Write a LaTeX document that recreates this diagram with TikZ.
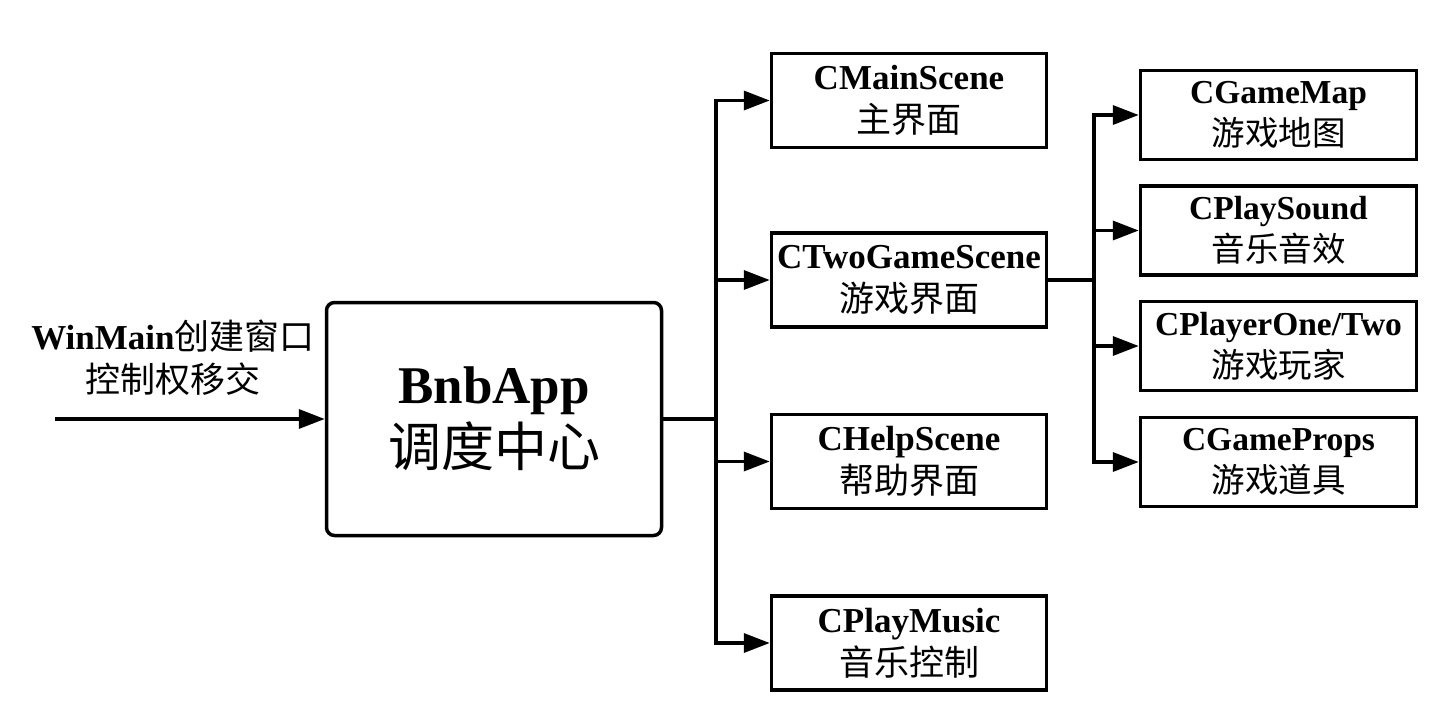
\documentclass[tikz,border=0pt]{standalone}
\usepackage{fontspec}
\setmainfont{Liberation Serif}
\newfontfamily\cjk{Noto Sans CJK SC}
\usetikzlibrary{arrows.meta}
\tikzset{
  conn/.style={line width=3.5pt},
  arr/.style={conn,-{Triangle[length=26pt,width=19pt]}},
  midbox/.style={draw,line width=3.5pt,minimum width=275pt,minimum height=94pt,inner sep=0pt,align=center,font=\fontsize{35}{43}\selectfont},
  rbox/.style={draw,line width=3.5pt,minimum width=276pt,minimum height=89pt,inner sep=0pt,align=center,font=\fontsize{33.5}{42}\selectfont},
  appbox/.style={draw,line width=3.5pt,rounded corners=8pt,minimum width=335pt,minimum height=233pt,inner sep=0pt,align=center,font=\fontsize{53}{63}\selectfont},
  lbl/.style={inner sep=0pt,align=center,font=\fontsize{35}{43}\selectfont}
}
\begin{document}
\begin{tikzpicture}[x=1pt,y=-1pt]
\useasboundingbox (0,0) rectangle (1453,701);
\node[appbox] (app) at (494,419) {\textbf{BnbApp}\\{\cjk 调度中心}};
\node[lbl] (lab) at (173,358) {\textbf{WinMain}{\cjk 创建窗口}\\{\cjk 控制权移交}};
\coordinate (in) at (55,419);
\draw[arr] (in) -- (app.west);

\node[midbox] (main) at (909,100.5) {\textbf{CMainScene}\\{\cjk 主界面}};
\node[midbox] (two) at (909,280) {\textbf{CTwoGameScene}\\{\cjk 游戏界面}};
\node[midbox] (help) at (909,461.5) {\textbf{CHelpScene}\\{\cjk 帮助界面}};
\node[midbox] (music) at (909,643) {\textbf{CPlayMusic}\\{\cjk 音乐控制}};

\node[rbox] (map) at (1278.5,115) {\textbf{CGameMap}\\{\cjk 游戏地图}};
\node[rbox] (sound) at (1278.5,230.5) {\textbf{CPlaySound}\\{\cjk 音乐音效}};
\node[rbox] (player) at (1278.5,346) {\textbf{CPlayerOne/Two}\\{\cjk 游戏玩家}};
\node[rbox] (props) at (1278.5,462) {\textbf{CGameProps}\\{\cjk 游戏道具}};

\coordinate (j1) at (716,419);
\coordinate (j2) at (1094,280);
\draw[conn] (app.east) -- (j1);
\foreach \t in {main,two,help,music}{\draw[arr] (j1) |- (\t.west);}
\draw[conn] (two.east) -- (j2);
\foreach \t in {map,sound,player,props}{\draw[arr] (j2) |- (\t.west);}
\end{tikzpicture}
\end{document}
